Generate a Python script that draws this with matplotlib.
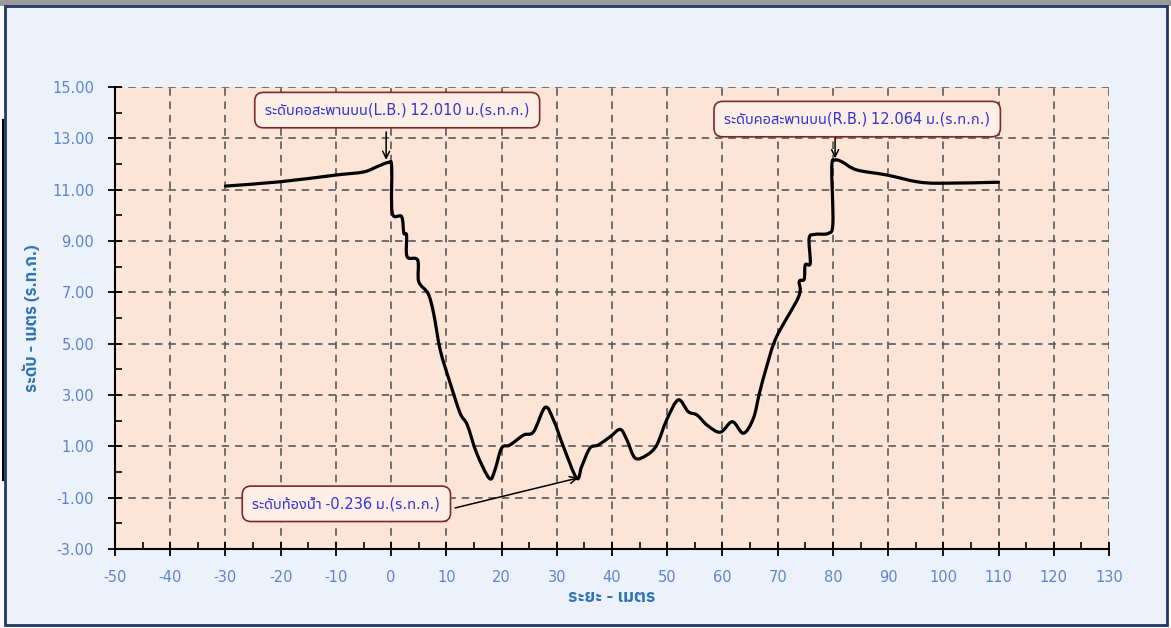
import matplotlib
matplotlib.use("Agg")
import matplotlib.pyplot as plt
from matplotlib.path import Path
from matplotlib.patches import PathPatch, Rectangle
from matplotlib.ticker import MultipleLocator, FormatStrFormatter
import numpy as np

plt.rcParams['font.family'] = ['Noto Sans Thai UI', 'DejaVu Sans']
plt.rcParams['axes.unicode_minus'] = False

# ---- data ----
distance = [-30, -20, -10, -5, -2.5, -0.5, 0.1, 0.2, 1.9, 2.3, 2.8, 2.9, 4.8, 5.0, 6.7, 7.7,
            8.9, 10.7, 12.5, 13.8, 15.5, 17.8, 18.8, 20.0, 21.5, 24.0, 25.8, 27.9, 29.4, 31.2,
            33.6, 34.5, 36.0, 37.5, 39.7, 41.5, 42.7, 44.2, 46.3, 48.1, 49.9, 52.0, 53.8, 55.4,
            57.2, 59.6, 61.8, 63.8, 65.6, 66.7, 68.0, 69.8, 73.8, 73.9, 74.8, 75.0, 75.9, 75.7,
            76.8, 79.2, 80.0, 79.8, 80.4, 81.6, 84.3, 89.8, 95.2, 99.4, 110]
elevation = [11.14, 11.31, 11.57, 11.69, 11.90, 12.06, 11.90, 10.10, 9.95, 9.31, 9.23, 8.39, 8.26, 7.42, 6.95, 6.18,
             4.75, 3.46, 2.29, 1.83, 0.73, -0.25, 0.08, 0.93, 1.05, 1.44, 1.57, 2.52, 2.03, 0.99,
             -0.24, 0.21, 0.93, 1.05, 1.38, 1.66, 1.25, 0.54, 0.66, 1.05, 2.03, 2.81, 2.35, 2.22,
             1.83, 1.55, 1.96, 1.51, 2.09, 3.07, 4.10, 5.27, 6.83, 7.42, 7.51, 8.07, 8.13, 9.11,
             9.26, 9.30, 9.70, 11.90, 12.15, 12.09, 11.77, 11.57, 11.31, 11.25, 11.29]

y_ticks = [-3, -1, 1, 3, 5, 7, 9, 11, 13, 15]
x_ticks = [-50, -40, -30, -20, -10, 0, 10, 20, 30, 40, 50, 60, 70, 80, 90, 100, 110, 120, 130]

label_lb = "ระดับคอสะพานบน(L.B.) 12.010 ม.(ร.ท.ก.)"
label_rb = "ระดับคอสะพานบน(R.B.) 12.064 ม.(ร.ท.ก.)"
label_bed = "ระดับท้องน้ำ -0.236 ม.(ร.ท.ก.)"
lb_point = (-0.9, 12.16)
rb_point = (80.4, 12.22)
bed_point = (33.9, -0.23)
xlabel = "ระยะ - เมตร"
ylabel = "ระดับ - เมตร (ร.ท.ก.)"

W, H = 1171, 628
fig = plt.figure(figsize=(W / 100, H / 100), dpi=100)
fig.patch.set_facecolor('white')

# frame decorations
fig.patches.append(Rectangle((0, 1 - 6 / H), 1, 6 / H, transform=fig.transFigure,
                             facecolor='#9a9a9a', edgecolor='none', zorder=-10))
fig.patches.append(Rectangle((5 / W, 3 / H), 1162 / W, 619 / H, transform=fig.transFigure,
                             facecolor='#ECF1FA', edgecolor='#1F3864', linewidth=2, zorder=-10))
fig.lines.append(plt.Line2D([3 / W, 3 / W], [1 - 480 / H, 1 - 120 / H], transform=fig.transFigure,
                            color='black', linewidth=1.5, zorder=-5))

ax = fig.add_axes([115 / W, 1 - 549 / H, (1109 - 115) / W, (549 - 87) / H])
ax.set_facecolor('#FCE4D6')
ax.set_xlim(-50, 130)
ax.set_ylim(-3, 15)

# smoothed line (Catmull-Rom style Bezier as in spreadsheet smoothed lines)
P = np.column_stack([distance, elevation]).astype(float)
verts = [tuple(P[0])]
codes = [Path.MOVETO]
n = len(P)
for i in range(n - 1):
    p0 = P[i - 1] if i > 0 else P[i]
    p1 = P[i]
    p2 = P[i + 1]
    p3 = P[i + 2] if i + 2 < n else P[i + 1]
    c1 = p1 + (p2 - p0) / 6.0
    c2 = p2 - (p3 - p1) / 6.0
    verts += [tuple(c1), tuple(c2), tuple(p2)]
    codes += [Path.CURVE4, Path.CURVE4, Path.CURVE4]
ax.add_patch(PathPatch(Path(verts, codes), facecolor='none', edgecolor='black',
                       linewidth=2.3, capstyle='round', joinstyle='round', zorder=3))

# grid & ticks
ax.set_xticks(x_ticks)
ax.xaxis.set_minor_locator(MultipleLocator(5))
ax.set_yticks(y_ticks)
ax.yaxis.set_minor_locator(MultipleLocator(1))
ax.yaxis.set_major_formatter(FormatStrFormatter('%.2f'))
ax.grid(True, which='major', color='#595959', linestyle=(0, (4.5, 3.5)), linewidth=1.2, zorder=1)
ax.set_axisbelow(True)
for s in ['top', 'right']:
    ax.spines[s].set_visible(False)
for s in ['left', 'bottom']:
    ax.spines[s].set_linewidth(1.5)
    ax.spines[s].set_color('black')
ax.tick_params(which='major', direction='inout', length=10, width=1.3, color='black',
               labelsize=10.5, labelcolor='#5B85D0')
ax.tick_params(which='minor', direction='in', length=5, width=1.2, color='black')
ax.tick_params(axis='x', which='major', pad=10)
ax.tick_params(axis='y', which='major', pad=10)

lab_font = ['IBM Plex Sans Thai', 'Sarabun', 'Noto Sans Thai UI', 'DejaVu Sans']
ax.set_xlabel(xlabel, fontsize=12.5, fontweight='bold', color='#2E75B6', labelpad=4, family=lab_font)
ax.set_ylabel(ylabel, fontsize=12, fontweight='bold', color='#2E75B6', labelpad=9, family=lab_font)

box = dict(boxstyle='round,pad=0.7,rounding_size=0.6', facecolor='#FDEFE6',
           edgecolor='#7A2B2B', linewidth=1.2)
tcol = '#3535D0'
ax.text(1.1, 14.10, label_lb, ha='center', va='center', fontsize=10.5, color=tcol, bbox=box, zorder=5)
ax.text(84.4, 13.75, label_rb, ha='center', va='center', fontsize=10.5, color=tcol, bbox=box, zorder=5)
ax.text(-8.1, -1.24, label_bed, ha='center', va='center', fontsize=10.5, color=tcol, bbox=box, zorder=5)

arrow = dict(arrowstyle='->,head_length=0.5,head_width=0.25', color='black', lw=1.1,
             shrinkA=0, shrinkB=0)
ax.annotate('', xy=lb_point, xytext=(lb_point[0], 13.25), arrowprops=arrow, zorder=4)
ax.annotate('', xy=rb_point, xytext=(rb_point[0], 13.45), arrowprops=arrow, zorder=4)
ax.annotate('', xy=bed_point, xytext=(11.6, -1.40), arrowprops=arrow, zorder=4)

fig.savefig("out.png", dpi=100, facecolor=fig.get_facecolor())
